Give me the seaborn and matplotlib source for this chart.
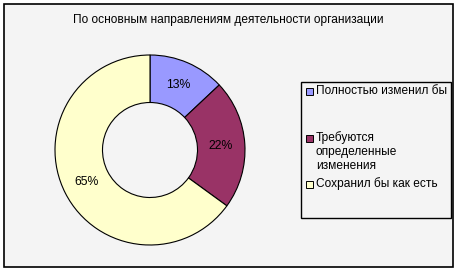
import matplotlib
matplotlib.use("Agg")
import matplotlib.pyplot as plt
import matplotlib.patches as mpatches
import seaborn as sns

sns.set_theme(style="white")
plt.rcParams['font.family'] = ['Liberation Sans', 'DejaVu Sans']

title = "По основным направлениям деятельности организации"
categories = ["Полностью изменил бы", "Требуются\nопределенные\nизменения", "Сохранил бы как есть"]
values = [13, 22, 65]
colors = ["#9999FF", "#993366", "#FFFFCC"]

W, H = 456, 270
fig = plt.figure(figsize=(W / 100, H / 100), dpi=100)
fig.patch.set_facecolor("white")

def px(x, y):
    return x / W, 1 - y / H

# chart area frame
fx0, fy0, fx1, fy1 = 4, 4, 453, 267
frame = mpatches.Rectangle(px(fx0, fy1), (fx1 - fx0) / W, (fy1 - fy0) / H,
                           transform=fig.transFigure, facecolor="#F4F4F4",
                           edgecolor="black", linewidth=1.2, zorder=0)
fig.add_artist(frame)

fig.text(228 / W, 1 - 20 / H, title, ha="center", va="center", fontsize=8.6, color="black")

# pie axes
cx, cy, r = 150, 150, 95
ax = fig.add_axes([(cx - r) / W, 1 - (cy + r) / H, 2 * r / W, 2 * r / H])
ax.set_facecolor("none")
wedges, texts, autotexts = ax.pie(
    values, colors=colors, startangle=90, counterclock=False,
    autopct=lambda p: f"{p:.0f}%", pctdistance=0.75, radius=1,
    wedgeprops=dict(width=0.5, edgecolor="black", linewidth=0.8),
    textprops=dict(fontsize=8.8, color="black"))
ax.set_xlim(-1.0, 1.0)
ax.set_ylim(-1.0, 1.0)
ax.set_aspect("auto")
ax.axis("off")

# legend box
lx0, ly0, lx1, ly1 = 301, 82, 451, 218
lbox = mpatches.Rectangle(px(lx0, ly1), (lx1 - lx0) / W, (ly1 - ly0) / H,
                          transform=fig.transFigure, facecolor="#F4F4F4",
                          edgecolor="black", linewidth=1.0, zorder=1)
fig.add_artist(lbox)

entry_y = [91, 138, 184]  # top line centre of each entry
line_h = 14
for lab, col, ey in zip(categories, colors, entry_y):
    sq = mpatches.Rectangle(px(306, ey + 3.5), 7 / W, 7 / H, transform=fig.transFigure,
                            facecolor=col, edgecolor="black", linewidth=0.7, zorder=2)
    fig.add_artist(sq)
    for i, line in enumerate(lab.split("\n")):
        fig.text(316 / W, 1 - (ey + i * line_h) / H, line, ha="left", va="center",
                 fontsize=8.6, color="black", zorder=3)

fig.savefig("out.png", dpi=100, facecolor="white")
